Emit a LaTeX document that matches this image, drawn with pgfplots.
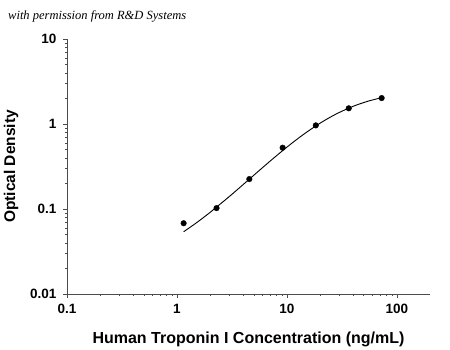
\documentclass[border=0pt]{standalone}
\usepackage{fontspec}
\setmainfont{Liberation Sans}
\newfontfamily\permfont{Liberation Serif}
\usepackage{pgfplots}
\pgfplotsset{compat=1.18}
\begin{document}
\begin{tikzpicture}
\useasboundingbox (0pt,0pt) rectangle (450pt,349pt);
\node[anchor=west, inner sep=0pt, font=\permfont\itshape\fontsize{12.5}{14}\selectfont] at (8pt,333pt) {with permission from R\&D Systems};
\begin{axis}[at={(67pt,55pt)}, anchor=south west, scale only axis, width=363pt, height=255pt,
 xmode=log, ymode=log, xmin=0.1, xmax=200, ymin=0.01, ymax=10,
 axis x line*=bottom, axis y line*=left,
 axis line style={black!70, line width=0.8pt},
 tick align=outside, major tick length=4pt, minor tick length=2pt,
 every tick/.style={black!70, line width=0.6pt},
 xtick={0.1,1,10,100}, xticklabels={0.1,1,10,100},
 ytick={0.01,0.1,1,10}, yticklabels={0.01,0.1,1,10},
 tick label style={font=\bfseries\fontsize{13.5}{15}\selectfont},
 xticklabel style={yshift=-3pt},
 yticklabel style={xshift=-3pt},
 xlabel={Human Troponin I Concentration (ng/mL)}, ylabel={Optical Density},
 xlabel style={font=\bfseries\fontsize{16}{18}\selectfont, at={(axis description cs:0.5,0)}, anchor=center, yshift=-45pt},
 ylabel style={font=\bfseries\fontsize{15.5}{18}\selectfont, at={(axis description cs:0,0.5)}, anchor=center, yshift=56pt},
 clip=false]
\addplot[black, line width=0.9pt, smooth, no marks] coordinates {
(1.15,0.054) (1.5,0.0687) (2,0.0912) (3,0.1406) (4,0.1939) (5,0.2497) (7,0.3641) (10,0.5345) (14,0.747) (20,1.022) (28,1.31) (40,1.615) (55,1.86) (73,2.04)};
\addplot[only marks, mark=*, mark size=2.8pt, black] coordinates {
(1.15,0.068) (2.29,0.1025) (4.55,0.225) (9.14,0.526) (18.3,0.963) (36.5,1.53) (72.7,2.02)};
\end{axis}
\end{tikzpicture}
\end{document}
